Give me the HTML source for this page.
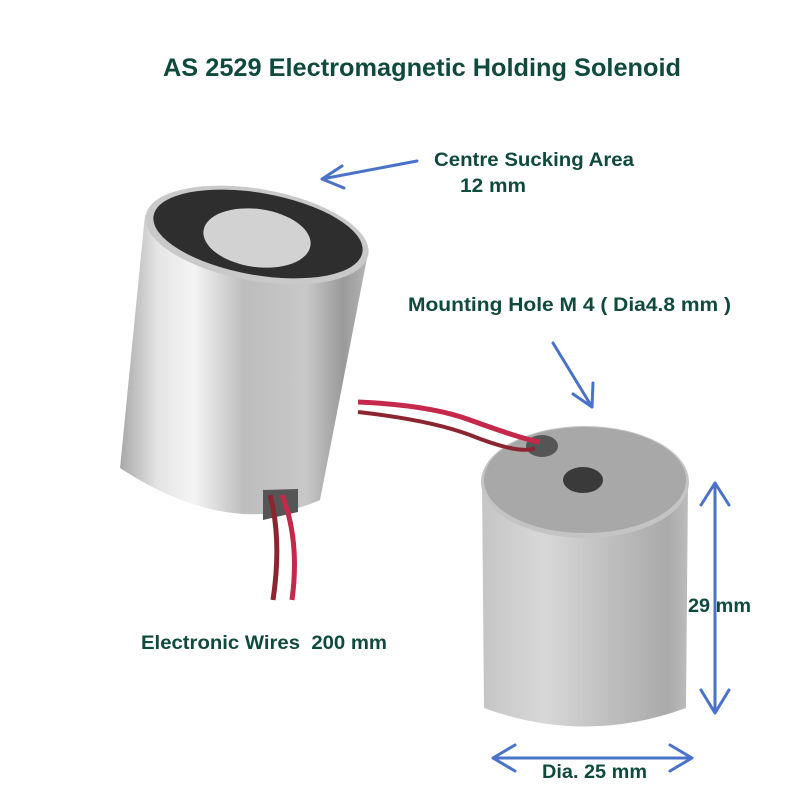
<!DOCTYPE html>
<html><head><meta charset="utf-8"><style>
html,body{margin:0;padding:0;background:#fff;}
svg{display:block;}
text{font-family:"Liberation Sans",sans-serif;fill:#0f4a3c;}
</style></head><body>
<svg width="800" height="800" viewBox="0 0 800 800" xmlns="http://www.w3.org/2000/svg">
<defs>
<linearGradient id="g1" x1="0" x2="1" y1="0" y2="0">
<stop offset="0" stop-color="#a8a8a8"/><stop offset="0.15" stop-color="#e4e4e4"/><stop offset="0.3" stop-color="#f4f4f4"/><stop offset="0.5" stop-color="#bdbdbd"/><stop offset="0.75" stop-color="#c8c8c8"/><stop offset="0.9" stop-color="#9a9a9a"/><stop offset="1" stop-color="#b5b5b5"/>
</linearGradient>
<linearGradient id="g2" x1="0" x2="1" y1="0" y2="0">
<stop offset="0" stop-color="#c5c5c5"/><stop offset="0.3" stop-color="#d8d8d8"/><stop offset="0.6" stop-color="#c0c0c0"/><stop offset="0.9" stop-color="#aaaaaa"/><stop offset="1" stop-color="#bcbcbc"/>
</linearGradient>
</defs>
<text x="422" y="76" font-size="25" font-weight="bold" text-anchor="middle" textLength="518" lengthAdjust="spacingAndGlyphs">AS 2529 Electromagnetic Holding Solenoid</text>

<!-- left cylinder -->
<path d="M145,215 L120,468 Q230,540 320,500 L368,253 Z" fill="url(#g1)"/>
<ellipse cx="257" cy="235" rx="113" ry="46" transform="rotate(10 257 235)" fill="#c9c9c9"/>
<ellipse cx="258" cy="234" rx="106" ry="41" transform="rotate(10 258 234)" fill="#2e2e2e"/>
<ellipse cx="257" cy="238" rx="54" ry="29" transform="rotate(8 257 238)" fill="#d2d2d2"/>
<path d="M263,520 L263,490 L298,489 L298,512 Z" fill="#555"/>
<!-- down wires -->
<path d="M270,495 Q282,540 273,600" stroke="#8b2530" stroke-width="5" fill="none"/>
<path d="M282,495 Q300,540 292,600" stroke="#c4284a" stroke-width="5" fill="none"/>

<!-- right cylinder -->
<path d="M482,482 L484,708 Q585,745 686,708 L688,482 Z" fill="url(#g2)"/>
<ellipse cx="585" cy="482" rx="104" ry="56" fill="#c4c4c4"/>
<ellipse cx="585" cy="480" rx="101" ry="53" fill="#a8a8a8"/>
<ellipse cx="583" cy="480" rx="20" ry="13" fill="#3a3a3a"/>
<ellipse cx="542" cy="446" rx="16" ry="11" fill="#555"/>
<!-- wires across -->
<path d="M358,402 Q430,405 470,420 Q525,440 540,442" stroke="#c4284a" stroke-width="5" fill="none"/>
<path d="M358,412 Q430,420 470,435 Q520,455 535,448" stroke="#8b2530" stroke-width="4" fill="none"/>

<!-- arrows -->
<g stroke="#4a72c8" stroke-width="3" fill="none" stroke-linecap="round">
<path d="M417,161 L322,179 M322,179 L342,166 M322,179 L344,188"/>
<path d="M553,343 L592,407 M592,407 L593,383 M592,407 L573,394"/>
<path d="M715,483 L715,713 M715,483 L701,505 M715,483 L729,505 M715,713 L701,690 M715,713 L729,690"/>
<path d="M493,758 L692,758 M493,758 L515,745 M493,758 L515,771 M692,758 L670,745 M692,758 L670,771"/>
</g>

<g font-weight="bold" font-size="19">
<text x="434" y="166" textLength="200" lengthAdjust="spacingAndGlyphs">Centre Sucking Area</text>
<text x="460" y="192" textLength="66" lengthAdjust="spacingAndGlyphs">12 mm</text>
<text x="408" y="311" textLength="323" lengthAdjust="spacingAndGlyphs">Mounting Hole M 4 ( Dia4.8 mm )</text>
<text x="141" y="649" textLength="246" lengthAdjust="spacingAndGlyphs">Electronic Wires&#160; 200 mm</text>
<text x="688" y="612" textLength="63" lengthAdjust="spacingAndGlyphs">29 mm</text>
<text x="542" y="778" textLength="105" lengthAdjust="spacingAndGlyphs">Dia. 25 mm</text>
</g>
</svg>
</body></html>
